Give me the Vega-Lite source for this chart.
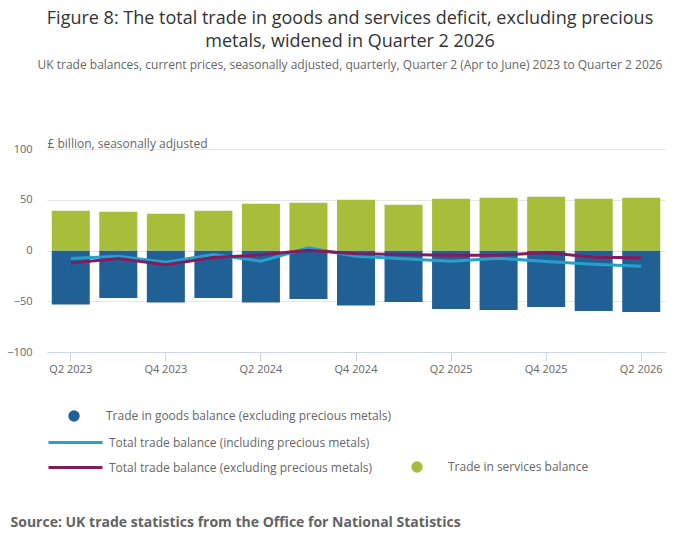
{
  "$schema": "https://vega.github.io/schema/vega-lite/v6.json",
  "width": 618,
  "height": 203,
  "autosize": {"type": "none"},
  "padding": {"left": 47, "top": 149, "right": 35, "bottom": 197},
  "background": "white",
  "config": {
    "font": "Open Sans",
    "view": {"stroke": null},
    "legend": {"padding": 0}
  },
  "title": {
    "text": ["Figure 8: The total trade in goods and services deficit, excluding precious", "metals, widened in Quarter 2 2026"],
    "subtitle": "UK trade balances, current prices, seasonally adjusted, quarterly, Quarter 2 (Apr to June) 2023 to Quarter 2 2026",
    "anchor": "middle",
    "dx": -6,
    "fontSize": 18,
    "fontWeight": "normal",
    "color": "#333333",
    "lineHeight": 23,
    "subtitleFontSize": 12,
    "subtitleColor": "#666666",
    "subtitlePadding": 9,
    "offset": 66
  },
  "data": {
    "values": [
      {"quarter": "Q2 2023", "series": "goods", "value": -53.3},
      {"quarter": "Q3 2023", "series": "goods", "value": -46.7},
      {"quarter": "Q4 2023", "series": "goods", "value": -51.3},
      {"quarter": "Q1 2024", "series": "goods", "value": -46.7},
      {"quarter": "Q2 2024", "series": "goods", "value": -51.3},
      {"quarter": "Q3 2024", "series": "goods", "value": -47.7},
      {"quarter": "Q4 2024", "series": "goods", "value": -54.3},
      {"quarter": "Q1 2025", "series": "goods", "value": -50.7},
      {"quarter": "Q2 2025", "series": "goods", "value": -57.6},
      {"quarter": "Q3 2025", "series": "goods", "value": -58.6},
      {"quarter": "Q4 2025", "series": "goods", "value": -55.6},
      {"quarter": "Q1 2026", "series": "goods", "value": -59.5},
      {"quarter": "Q2 2026", "series": "goods", "value": -60.5},
      {"quarter": "Q2 2023", "series": "services", "value": 39.1},
      {"quarter": "Q3 2023", "series": "services", "value": 38.2},
      {"quarter": "Q4 2023", "series": "services", "value": 36.2},
      {"quarter": "Q1 2024", "series": "services", "value": 39.1},
      {"quarter": "Q2 2024", "series": "services", "value": 46.1},
      {"quarter": "Q3 2024", "series": "services", "value": 47.0},
      {"quarter": "Q4 2024", "series": "services", "value": 50.0},
      {"quarter": "Q1 2025", "series": "services", "value": 45.1},
      {"quarter": "Q2 2025", "series": "services", "value": 51.0},
      {"quarter": "Q3 2025", "series": "services", "value": 52.0},
      {"quarter": "Q4 2025", "series": "services", "value": 53.0},
      {"quarter": "Q1 2026", "series": "services", "value": 51.0},
      {"quarter": "Q2 2026", "series": "services", "value": 52.0},
      {"quarter": "Q2 2023", "series": "incl", "value": -7.9},
      {"quarter": "Q3 2023", "series": "incl", "value": -5.6},
      {"quarter": "Q4 2023", "series": "incl", "value": -11.5},
      {"quarter": "Q1 2024", "series": "incl", "value": -3.9},
      {"quarter": "Q2 2024", "series": "incl", "value": -10.5},
      {"quarter": "Q3 2024", "series": "incl", "value": 2.6},
      {"quarter": "Q4 2024", "series": "incl", "value": -5.6},
      {"quarter": "Q1 2025", "series": "incl", "value": -8.2},
      {"quarter": "Q2 2025", "series": "incl", "value": -10.5},
      {"quarter": "Q3 2025", "series": "incl", "value": -7.6},
      {"quarter": "Q4 2025", "series": "incl", "value": -10.9},
      {"quarter": "Q1 2026", "series": "incl", "value": -13.5},
      {"quarter": "Q2 2026", "series": "incl", "value": -15.5},
      {"quarter": "Q2 2023", "series": "excl", "value": -12.2},
      {"quarter": "Q3 2023", "series": "excl", "value": -7.9},
      {"quarter": "Q4 2023", "series": "excl", "value": -14.1},
      {"quarter": "Q1 2024", "series": "excl", "value": -6.9},
      {"quarter": "Q2 2024", "series": "excl", "value": -4.3},
      {"quarter": "Q3 2024", "series": "excl", "value": 0.3},
      {"quarter": "Q4 2024", "series": "excl", "value": -3.3},
      {"quarter": "Q1 2025", "series": "excl", "value": -3.9},
      {"quarter": "Q2 2025", "series": "excl", "value": -4.6},
      {"quarter": "Q3 2025", "series": "excl", "value": -4.6},
      {"quarter": "Q4 2025", "series": "excl", "value": -2.0},
      {"quarter": "Q1 2026", "series": "excl", "value": -6.6},
      {"quarter": "Q2 2026", "series": "excl", "value": -7.2}
    ]
  },
  "encoding": {
    "x": {
      "field": "quarter",
      "type": "ordinal",
      "sort": null,
      "scale": {"paddingInner": 0.2, "paddingOuter": 0.1},
      "axis": {
        "values": ["Q2 2023", "Q4 2023", "Q2 2024", "Q4 2024", "Q2 2025", "Q4 2025", "Q2 2026"],
        "labelAngle": 0,
        "labelFontSize": 11,
        "labelColor": "#666666",
        "labelPadding": 2,
        "tickColor": "#ccd6eb",
        "tickSize": 9,
        "domainColor": "#ccd6eb",
        "grid": false,
        "title": "Source: UK trade statistics from the Office for National Statistics",
        "titleFontSize": 14,
        "titleFontWeight": "bold",
        "titleColor": "#636363",
        "titleAlign": "left",
        "titleAnchor": "start",
        "titleBaseline": "alphabetic",
        "titleX": -37,
        "titleY": 174
      }
    },
    "y": {
      "field": "value",
      "type": "quantitative",
      "scale": {"domain": [-100, 100], "nice": false},
      "axis": {
        "values": [-100, -50, 0, 50, 100],
        "domain": false,
        "ticks": false,
        "labelFontSize": 11,
        "labelColor": "#666666",
        "labelPadding": 15,
        "gridColor": "#e6e6e6",
        "title": "£ billion, seasonally adjusted",
        "titleAngle": 0,
        "titleAlign": "left",
        "titleBaseline": "alphabetic",
        "titleFontSize": 12,
        "titleFontWeight": "normal",
        "titleColor": "#666666",
        "titleX": 0,
        "titleY": -2
      }
    }
  },
  "layer": [
    {
      "transform": [{"filter": "datum.series === 'goods'"}],
      "mark": {"type": "bar"},
      "encoding": {
        "color": {
          "datum": "Trade in goods balance (excluding precious metals)",
          "scale": {"range": ["#206095"]},
          "legend": {
            "orient": "none", "legendX": 21, "legendY": 261, "title": null,
            "symbolType": "circle", "symbolSize": 130, "symbolStrokeWidth": 0,
            "labelFontSize": 12, "labelColor": "#666666", "labelOffset": 26, "labelLimit": 500
          }
        }
      }
    },
    {
      "transform": [{"filter": "datum.series === 'services'"}],
      "mark": {"type": "bar"},
      "encoding": {
        "color": {
          "datum": "Trade in services balance",
          "scale": {"range": ["#a8bd3a"]},
          "legend": {
            "orient": "none", "legendX": 364, "legendY": 312, "title": null,
            "symbolType": "circle", "symbolSize": 130, "symbolStrokeWidth": 0,
            "labelFontSize": 12, "labelColor": "#666666", "labelOffset": 25, "labelLimit": 500
          }
        }
      }
    },
    {
      "transform": [{"filter": "datum.series === 'incl'"}],
      "mark": {"type": "line", "strokeWidth": 3},
      "encoding": {
        "color": {
          "datum": "Total trade balance (including precious metals)",
          "scale": {"range": ["#27a0cc"]},
          "legend": {
            "orient": "none", "legendX": 0, "legendY": 265, "title": null,
            "symbolType": "stroke", "symbolSize": 2916, "symbolStrokeWidth": 3,
            "labelFontSize": 12, "labelColor": "#666666", "labelOffset": 5, "labelLimit": 500
          }
        }
      }
    },
    {
      "transform": [{"filter": "datum.series === 'excl'"}],
      "mark": {"type": "line", "strokeWidth": 3},
      "encoding": {
        "color": {
          "datum": "Total trade balance (excluding precious metals)",
          "scale": {"range": ["#871a5b"]},
          "legend": {
            "orient": "none", "legendX": 0, "legendY": 290, "title": null,
            "symbolType": "stroke", "symbolSize": 2916, "symbolStrokeWidth": 3,
            "labelFontSize": 12, "labelColor": "#666666", "labelOffset": 5, "labelLimit": 500
          }
        }
      }
    }
  ],
  "resolve": {"scale": {"color": "independent"}, "legend": {"color": "independent"}}
}
